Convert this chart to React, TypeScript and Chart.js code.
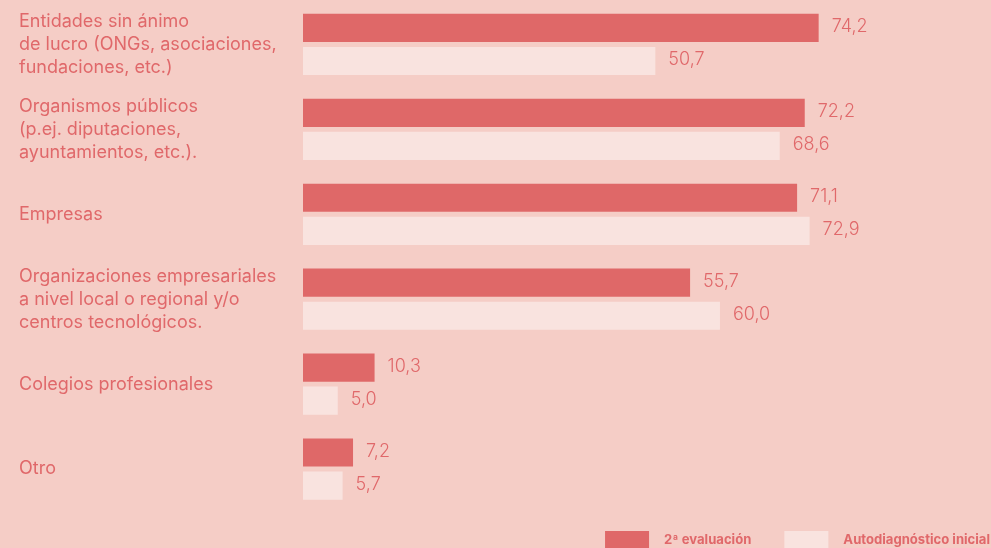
import { useEffect, useRef } from 'react';
import { Chart, registerables } from 'chart.js';

Chart.register(...registerables);

const categories: (string | string[])[] = [
  ['Entidades sin ánimo', 'de lucro (ONGs, asociaciones,', 'fundaciones, etc.)'],
  ['Organismos públicos', '(p.ej. diputaciones,', 'ayuntamientos, etc.).'],
  'Empresas',
  ['Organizaciones empresariales', 'a nivel local o regional y/o', 'centros tecnológicos.'],
  'Colegios profesionales',
  'Otro',
];
const seriesNames = ['2ª evaluación', 'Autodiagnóstico inicial'];
const segundaEvaluacion = [74.2, 72.2, 71.1, 55.7, 10.3, 7.2];
const autodiagnosticoInicial = [50.7, 68.6, 72.9, 60.0, 5.0, 5.7];

const BG = '#F5CDC6';
const DARK = '#DF6868';
const LIGHT = '#F9E3DF';
const TEXT = '#E0686A';
const FONT = 'Inter, "Noto Sans", sans-serif';

const fmt = (v: number) => v.toFixed(1).replace('.', ',');

const bgPlugin = {
  id: 'bg',
  beforeDraw(chart: any) {
    const { ctx, width, height } = chart;
    ctx.save();
    ctx.fillStyle = BG;
    ctx.fillRect(0, 0, width, height);
    ctx.restore();
  },
};

const valueLabels = {
  id: 'valueLabels',
  afterDatasetsDraw(chart: any) {
    const { ctx } = chart;
    ctx.save();
    ctx.fillStyle = TEXT;
    ctx.font = `300 18px ${FONT}`;
    ctx.textAlign = 'left';
    ctx.textBaseline = 'middle';
    chart.data.datasets.forEach((ds: any, i: number) => {
      const meta = chart.getDatasetMeta(i);
      meta.data.forEach((bar: any, j: number) => {
        ctx.fillText(fmt(ds.data[j]), bar.x + 13, bar.y - 1);
      });
    });
    ctx.restore();
  },
};

const customLegend = {
  id: 'customLegend',
  afterDraw(chart: any) {
    const { ctx, width } = chart;
    const ds = chart.data.datasets;
    ctx.save();
    ctx.font = `bold 13.1px ${FONT}`;
    ctx.textBaseline = 'middle';
    ctx.textAlign = 'left';
    const boxW = 44;
    const boxH = 18;
    const boxTop = 531;
    const textGap = 15;
    const itemGap = 33;
    let right = width - 1;
    for (let i = ds.length - 1; i >= 0; i--) {
      const tw = ctx.measureText(ds[i].label).width;
      const textX = right - tw;
      const boxX = textX - textGap - boxW;
      ctx.fillStyle = ds[i].backgroundColor;
      ctx.fillRect(boxX, boxTop, boxW, boxH);
      ctx.fillStyle = TEXT;
      ctx.fillText(ds[i].label, textX, boxTop + 9);
      right = boxX - itemGap;
    }
    ctx.restore();
  },
};

export default function App() {
  const ref = useRef<HTMLCanvasElement>(null);
  useEffect(() => {
    document.body.style.margin = '0';
    document.body.style.background = BG;
    const chart = new Chart(ref.current!, {
      type: 'bar',
      data: {
        labels: categories,
        datasets: [
          { label: seriesNames[0], data: segundaEvaluacion, backgroundColor: DARK },
          { label: seriesNames[1], data: autodiagnosticoInicial, backgroundColor: LIGHT },
        ],
      },
      options: {
        indexAxis: 'y',
        animation: false,
        responsive: false,
        maintainAspectRatio: false,
        categoryPercentage: 0.78,
        barPercentage: 0.85,
        layout: { padding: { left: 19, top: 2, right: 0, bottom: 36.5 } },
        scales: {
          x: { display: false, min: 0, max: 99 },
          y: {
            grid: { display: false },
            border: { display: false },
            afterFit(scale: any) {
              scale.width = 284;
              scale.paddingTop = 0;
              scale.paddingBottom = 0;
            },
            ticks: {
              crossAlign: 'far',
              color: TEXT,
              padding: 0,
              font: { family: FONT, size: 18, weight: '400', lineHeight: 1.28 },
            },
          },
        },
        plugins: {
          tooltip: { enabled: false },
          legend: { display: false },
        },
      },
      plugins: [bgPlugin, valueLabels, customLegend],
    });
    return () => chart.destroy();
  }, []);
  return <canvas ref={ref} width={991} height={548} style={{ display: 'block' }} />;
}
